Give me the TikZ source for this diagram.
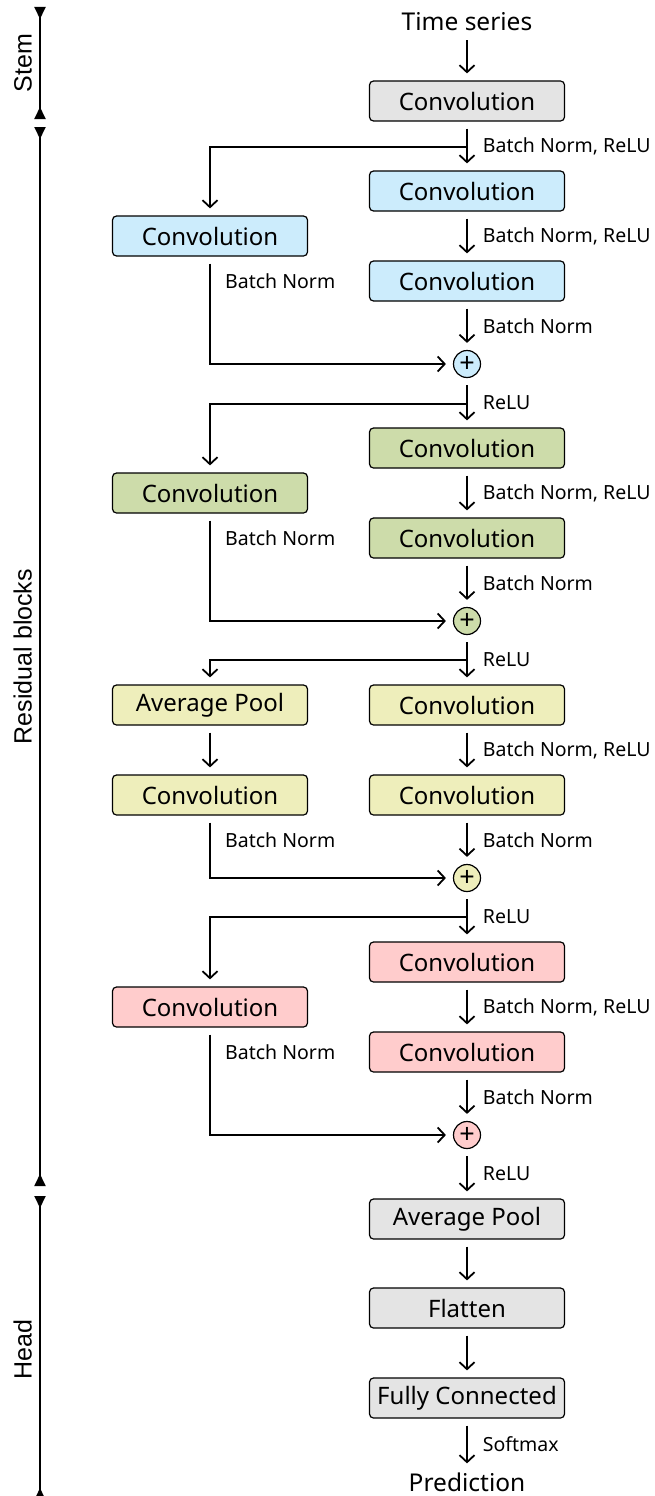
\documentclass[tikz,border=0pt]{standalone}
\usepackage{fontspec}
\setmainfont{Noto Sans}
\newfontfamily\sidefont{Liberation Sans}
\usetikzlibrary{arrows.meta}
\definecolor{cgray}{RGB}{228,228,228}
\definecolor{cblue}{RGB}{204,236,252}
\definecolor{cgreen}{RGB}{205,220,170}
\definecolor{cyellow}{RGB}{238,238,187}
\definecolor{cred}{RGB}{255,204,204}
\tikzset{
  layer/.style={draw, line width=1.2pt, rounded corners=4pt, minimum width=195pt,
    minimum height=40pt, inner sep=1pt, font=\fontsize{24}{28}\selectfont},
  plus/.style={draw, line width=1.2pt, circle, minimum size=27pt, inner sep=0pt,
    font=\fontsize{27}{27}\selectfont},
  term/.style={font=\fontsize{24.5}{29}\selectfont, inner sep=2pt},
  lbl/.style={font=\fontsize{19.5}{23}\selectfont, anchor=west, inner sep=0pt},
  side/.style={font=\sidefont\fontsize{25}{30}\selectfont, rotate=90},
  arr/.style={line width=1.8pt, -{Straight Barb[length=7pt,width=15pt]},
    shorten <=7pt, shorten >=7pt},
  flow/.style={line width=1.8pt, -{Straight Barb[length=7pt,width=15pt]},
    shorten >=7pt},
  brk/.style={line width=1.8pt,
    {Triangle[reversed,length=12pt,width=11pt]}-{Triangle[reversed,length=12pt,width=11pt]}},
}
\begin{document}
\begin{tikzpicture}[x=1pt,y=-1pt]
\useasboundingbox (0,0) rectangle (654,1496);

% stem
\node[term] (ts) at (467,22) {Time series};
\node[layer, fill=cgray] (stem) at (467,101) {Convolution};

% residual block 1
\node[layer, fill=cblue] (r1a) at (467,191) {Convolution};
\node[layer, fill=cblue] (r1b) at (467,281) {Convolution};
\node[layer, fill=cblue] (l1) at (210,236) {Convolution};
\node[plus, fill=cblue] (p1) at (467,364) {+};

% residual block 2
\node[layer, fill=cgreen] (r2a) at (467,448) {Convolution};
\node[layer, fill=cgreen] (r2b) at (467,538) {Convolution};
\node[layer, fill=cgreen] (l2) at (210,493) {Convolution};
\node[plus, fill=cgreen] (p2) at (467,621) {+};

% residual block 3
\node[layer, fill=cyellow] (r3a) at (467,705) {Convolution};
\node[layer, fill=cyellow] (r3b) at (467,795) {Convolution};
\node[layer, fill=cyellow] (l3a) at (210,705) {Average Pool};
\node[layer, fill=cyellow] (l3b) at (210,795) {Convolution};
\node[plus, fill=cyellow] (p3) at (467,878) {+};

% residual block 4
\node[layer, fill=cred] (r4a) at (467,962) {Convolution};
\node[layer, fill=cred] (r4b) at (467,1052) {Convolution};
\node[layer, fill=cred] (l4) at (210,1007) {Convolution};
\node[plus, fill=cred] (p4) at (467,1135) {+};

% head
\node[layer, fill=cgray] (hp) at (467,1219) {Average Pool};
\node[layer, fill=cgray] (fl) at (467,1308) {Flatten};
\node[layer, fill=cgray] (fc) at (467,1398) {Fully Connected};
\node[term] (pred) at (467,1482) {Prediction};

% branch points of the shortcuts
\coordinate (b1) at (467,147);
\coordinate (b2) at (467,404);
\coordinate (b3) at (467,660);
\coordinate (b4) at (467,917);

% main path
\draw[arr] (ts) -- (stem);
\draw[arr] (stem) -- node[lbl, xshift=15pt] {Batch Norm, ReLU} (r1a);
\draw[arr] (r1a) -- node[lbl, xshift=15pt] {Batch Norm, ReLU} (r1b);
\draw[arr] (r1b) -- node[lbl, xshift=15pt] {Batch Norm} (p1);
\draw[arr] (p1) -- node[lbl, xshift=15pt] {ReLU} (r2a);
\draw[arr] (r2a) -- node[lbl, xshift=15pt] {Batch Norm, ReLU} (r2b);
\draw[arr] (r2b) -- node[lbl, xshift=15pt] {Batch Norm} (p2);
\draw[arr] (p2) -- node[lbl, xshift=15pt] {ReLU} (r3a);
\draw[arr] (r3a) -- node[lbl, xshift=15pt] {Batch Norm, ReLU} (r3b);
\draw[arr] (r3b) -- node[lbl, xshift=15pt] {Batch Norm} (p3);
\draw[arr] (p3) -- node[lbl, xshift=15pt] {ReLU} (r4a);
\draw[arr] (r4a) -- node[lbl, xshift=15pt] {Batch Norm, ReLU} (r4b);
\draw[arr] (r4b) -- node[lbl, xshift=15pt] {Batch Norm} (p4);
\draw[arr] (p4) -- node[lbl, xshift=15pt] {ReLU} (hp);
\draw[arr] (hp) -- (fl);
\draw[arr] (fl) -- (fc);
\draw[arr] (fc) -- node[lbl, xshift=15pt] {Softmax} (pred);

% shortcuts
\draw[flow] (b1) -| (l1);
\draw[arr] (l1) |- (p1);
\node[lbl] at ([xshift=15pt,yshift=-25pt]l1.south) {Batch Norm};

\draw[flow] (b2) -| (l2);
\draw[arr] (l2) |- (p2);
\node[lbl] at ([xshift=15pt,yshift=-25pt]l2.south) {Batch Norm};

\draw[flow] (b3) -| (l3a);
\draw[arr] (l3a) -- (l3b);
\draw[arr] (l3b) |- (p3);
\node[lbl] at ([xshift=15pt,yshift=-25pt]l3b.south) {Batch Norm};

\draw[flow] (b4) -| (l4);
\draw[arr] (l4) |- (p4);
\node[lbl] at ([xshift=15pt,yshift=-25pt]l4.south) {Batch Norm};

% stage brackets
\coordinate (s0) at (40,7);
\coordinate (s1) at (40,119);
\coordinate (s2) at (40,127);
\coordinate (s3) at (40,1186);
\coordinate (s4) at (40,1196);
\coordinate (s5) at (40,1500);
\draw[brk] (s0) -- node[side, above=4pt] {Stem} (s1);
\draw[brk] (s2) -- node[side, above=4pt] {Residual blocks} (s3);
\draw[brk] (s4) -- node[side, above=4pt, pos=0.505] {Head} (s5);
\end{tikzpicture}
\end{document}
